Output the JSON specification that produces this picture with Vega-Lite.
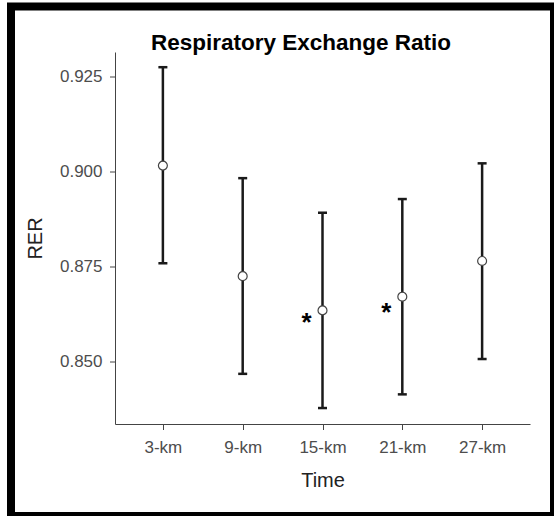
{
  "$schema": "https://vega.github.io/schema/vega-lite/v6.json",
  "width": 543,
  "height": 509.5,
  "autosize": {"type": "none"},
  "padding": {"left": 11, "top": 6.5, "right": 0, "bottom": 0},
  "background": "white",
  "config": {
    "view": {"stroke": "black", "strokeWidth": 8},
    "font": "Liberation Sans",
    "axis": {"grid": false}
  },
  "title": {
    "text": "Respiratory Exchange Ratio",
    "frame": "group",
    "anchor": "middle",
    "orient": "top",
    "offset": -65.5,
    "baseline": "alphabetic",
    "dx": 18.5,
    "fontSize": 22.5,
    "fontWeight": "bold",
    "color": "black",
    "font": "Liberation Sans"
  },
  "datasets": {
    "rer": [
      {"time": "3-km", "mean": 0.9016, "lower": 0.8759, "upper": 0.9275},
      {"time": "9-km", "mean": 0.8725, "lower": 0.8468, "upper": 0.8983},
      {"time": "15-km", "mean": 0.8635, "lower": 0.8378, "upper": 0.8892},
      {"time": "21-km", "mean": 0.8671, "lower": 0.8414, "upper": 0.8928},
      {"time": "27-km", "mean": 0.8765, "lower": 0.8507, "upper": 0.9022}
    ],
    "sig": [
      {"time": "15-km", "y": 0.8615, "label": "*"},
      {"time": "21-km", "y": 0.8641, "label": "*"}
    ]
  },
  "encoding": {
    "x": {
      "field": "time",
      "type": "nominal",
      "sort": ["3-km", "9-km", "15-km", "21-km", "27-km"],
      "scale": {"type": "point", "range": [104, 519], "padding": 0.6},
      "axis": {
        "title": "Time",
        "offset": -92,
        "labelAngle": 0,
        "tickSize": 5.5,
        "tickWidth": 1,
        "tickColor": "#444",
        "domainColor": "#444",
        "domainWidth": 1,
        "labelFont": "Liberation Sans",
        "labelFontSize": 17,
        "labelColor": "#4d4d4d",
        "labelPadding": 10,
        "titleFont": "Liberation Sans",
        "titleFontSize": 20,
        "titleFontWeight": "normal",
        "titleColor": "#222",
        "titleY": 62,
        "titleBaseline": "alphabetic"
      }
    }
  },
  "layer": [
    {
      "data": {"name": "rer"},
      "mark": {"type": "rule", "stroke": "#1a1a1a", "strokeWidth": 2.5},
      "encoding": {
        "y": {
          "field": "lower", "type": "quantitative",
          "scale": {"domain": [0.8336, 0.9315], "range": [417.5, 45.5], "nice": false, "zero": false},
          "axis": {
            "title": "RER",
            "values": [0.85, 0.875, 0.9, 0.925],
            "format": ".3f",
            "offset": -104,
            "tickSize": 5.5,
            "tickWidth": 1,
            "tickColor": "#444",
            "domainColor": "#444",
            "domainWidth": 1,
            "labelFont": "Liberation Sans",
            "labelFontSize": 17,
            "labelColor": "#4d4d4d",
            "labelPadding": 7.5,
            "titleFont": "Liberation Sans",
            "titleFontSize": 20,
            "titleFontWeight": "normal",
            "titleColor": "#222",
            "titleX": -80,
            "titleBaseline": "middle"
          }
        },
        "y2": {"field": "upper"}
      }
    },
    {
      "data": {"name": "rer"},
      "mark": {"type": "tick", "orient": "horizontal", "size": 9, "thickness": 2.5, "color": "#1a1a1a", "opacity": 1},
      "encoding": {
        "y": {"field": "upper", "type": "quantitative", "title": "RER"}
      }
    },
    {
      "data": {"name": "rer"},
      "mark": {"type": "tick", "orient": "horizontal", "size": 9, "thickness": 2.5, "color": "#1a1a1a", "opacity": 1},
      "encoding": {
        "y": {"field": "lower", "type": "quantitative", "title": "RER"}
      }
    },
    {
      "data": {"name": "rer"},
      "mark": {"type": "point", "filled": true, "fill": "white", "stroke": "#444", "strokeWidth": 1.2, "size": 80, "opacity": 1},
      "encoding": {
        "y": {"field": "mean", "type": "quantitative", "title": "RER"}
      }
    },
    {
      "data": {"name": "sig"},
      "mark": {"type": "text", "fontSize": 26, "fontWeight": "bold", "color": "black", "dx": -16, "dy": 5, "baseline": "middle", "align": "center", "font": "Liberation Sans"},
      "encoding": {
        "y": {"field": "y", "type": "quantitative", "title": "RER"},
        "text": {"field": "label"}
      }
    }
  ]
}
